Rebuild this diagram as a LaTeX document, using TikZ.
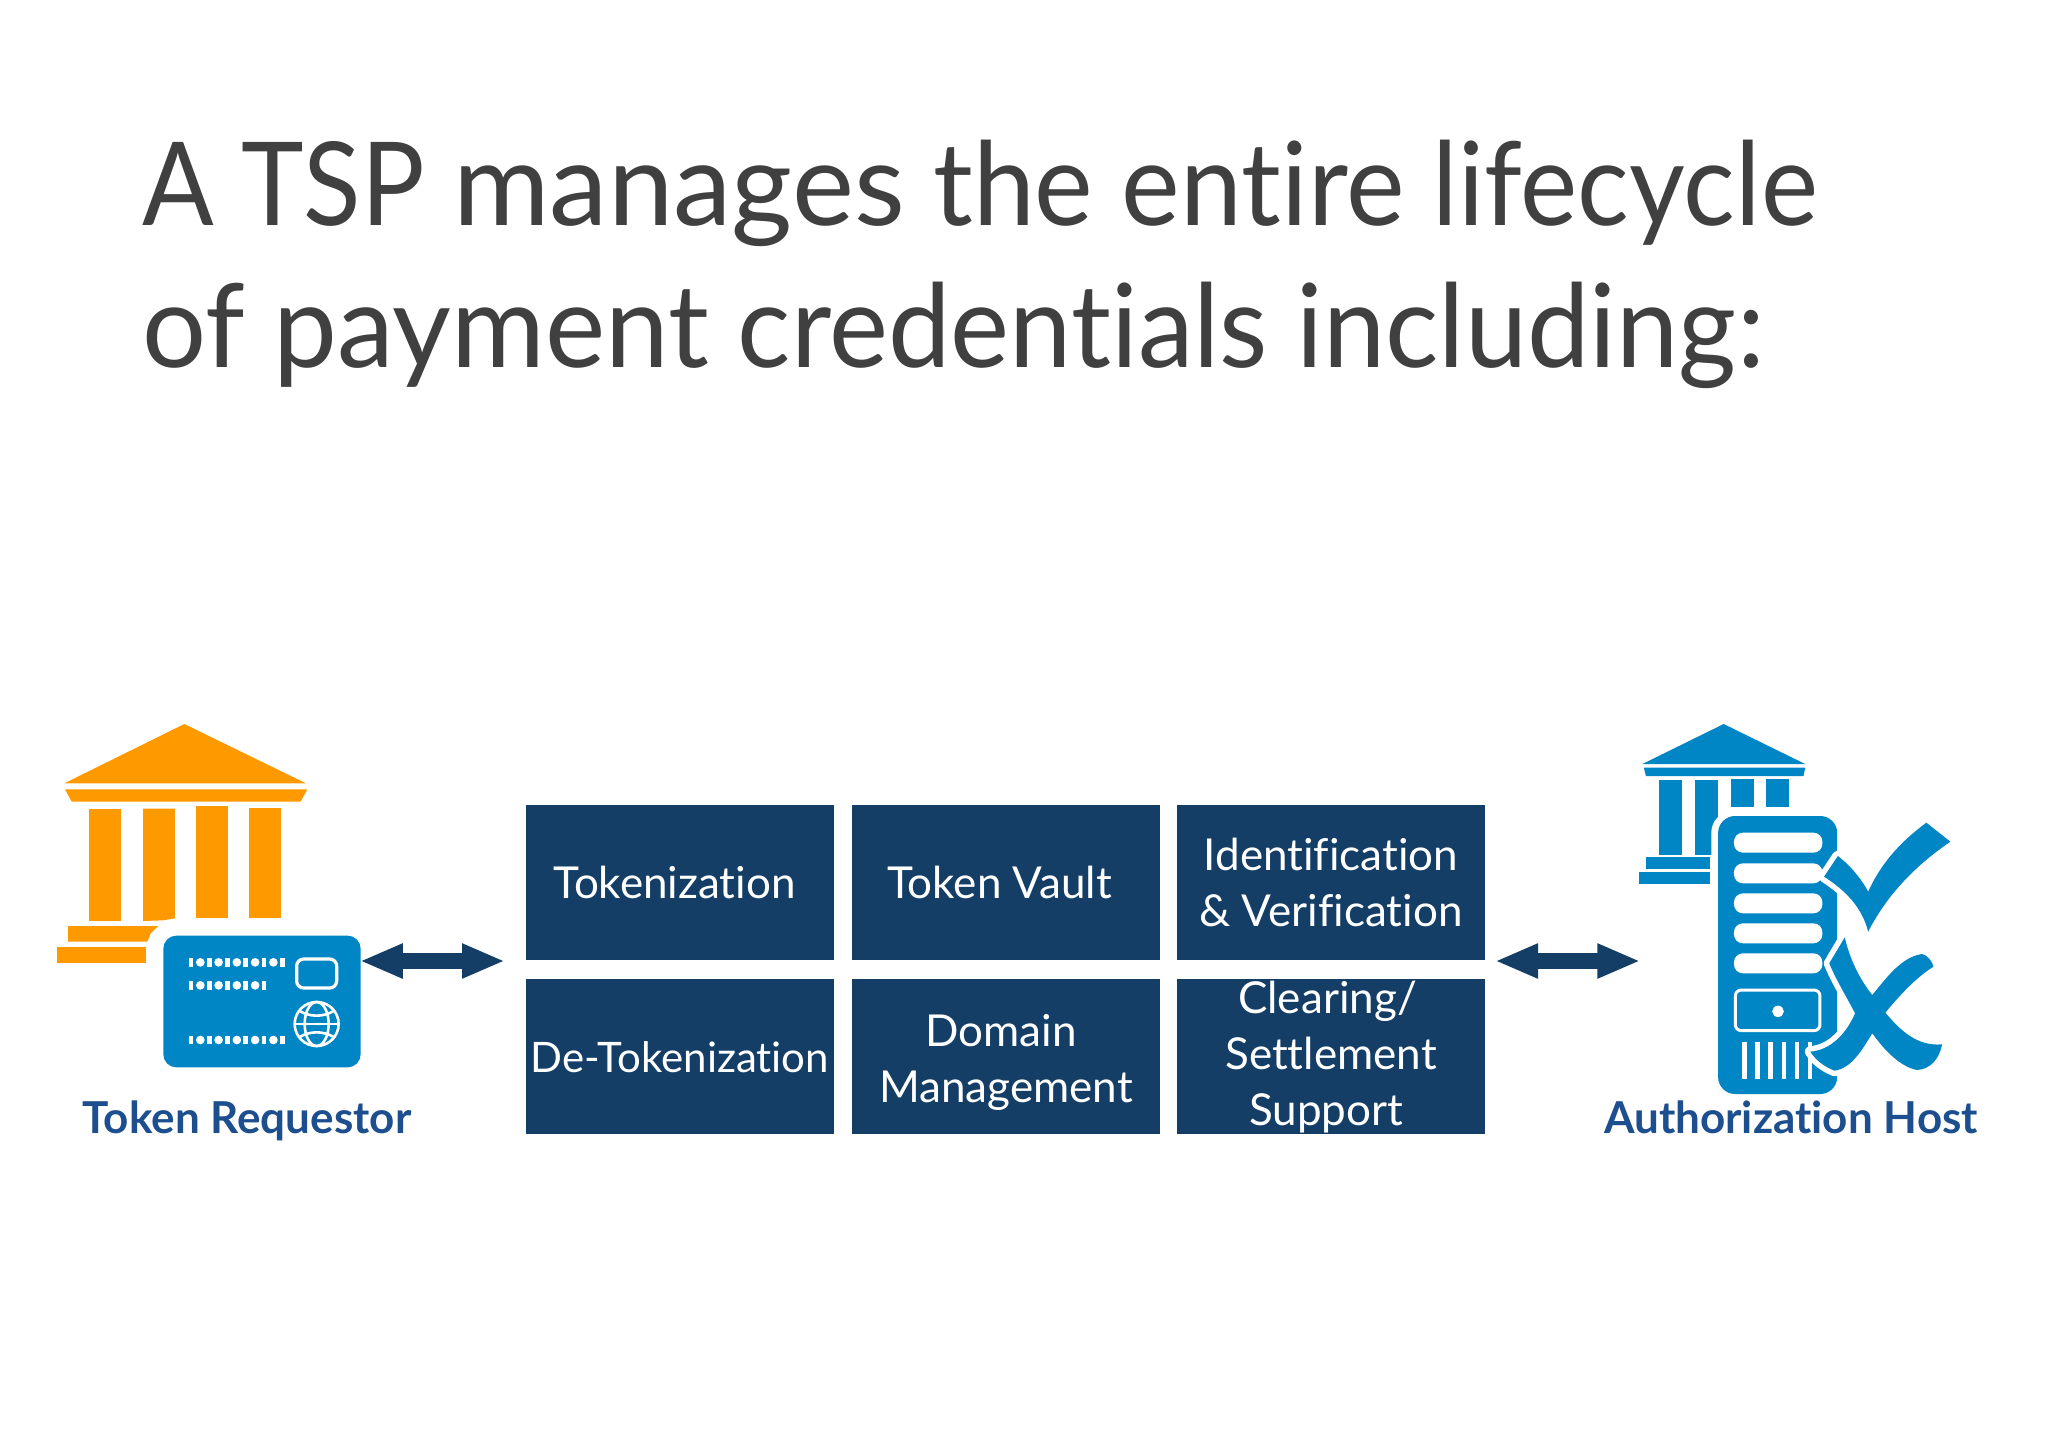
\documentclass[tikz,border=0pt]{standalone}
\usepackage{fontspec}
\usetikzlibrary{arrows.meta}
\setmainfont[Ligatures=NoCommon]{Lato}
\newfontfamily\titlefont[FakeStretch=0.956,Ligatures=NoCommon]{Lato}
\newcommand{\tw}[2]{{\addfontfeature{FakeStretch=#1}#2}}
\definecolor{navy}{HTML}{143E66}
\definecolor{orangeb}{HTML}{FF9900}
\definecolor{blueb}{HTML}{0085C5}
\definecolor{labelb}{HTML}{1D4F8E}
\definecolor{titleg}{HTML}{404040}
\tikzset{
  tspbox/.style={fill=navy,draw=none,minimum width=308pt,minimum height=155pt,inner sep=0pt,
    text=white,align=center,font=\fontsize{44}{56}\selectfont},
  actorlabel/.style={text=labelb,font=\fontsize{44}{50}\selectfont\bfseries,inner sep=0pt,anchor=base},
  biarrow/.style={draw=navy,line width=15.3pt,{Triangle[length=43pt,width=32pt]}-{Triangle[length=43pt,width=32pt]}},
}
\begin{document}
\begin{tikzpicture}[x=1pt,y=-1pt]
\useasboundingbox[fill=white] (0,0) rectangle (2048,1448);
\node[anchor=north west,inner sep=0pt,text=titleg,align=left,font=\titlefont\fontsize{116}{141.5}\selectfont] (title) at (142.5,140)
 {\tw{0.913}{A TSP} \tw{1.012}{manages} the entire \tw{0.933}{lifecycle}\\\tw{0.975}{of} \tw{0.983}{payment} \tw{0.962}{credentials} \tw{0.962}{including:}};
% boxes
\node[tspbox] (b1) at (680,882.8) {Tokenization\kern 11pt};
\node[tspbox] (b2) at (1006,882.8) {Token Vault\kern 13pt};
\node[tspbox] (b3) at (1331,882.8) {Identification\\\& Verification};
\node[tspbox,font=\fontsize{42}{56}\selectfont] (b4) at (680,1056.8) {De-Tokenization};
\node[tspbox] (b5) at (1006,1056.8) {\rule{0pt}{44pt}Domain\kern 10pt\\Management};
\node[tspbox] (b6) at (1331,1056.8) {Clearing/\kern 7pt\\Settlement\\Support\kern 10pt};
% left icon
\begin{scope}[x=0.33333pt,y=-0.33333pt,shift={(30pt,-700pt)}]
\fill[orangeb] (463,72) -- (828,250) -- (103,250) -- cycle;
\fill[orangeb] (105,268) -- (832,268) -- (812,305) -- (125,305) -- cycle;
\fill[orangeb] (177,326) rectangle (273,663);
\fill[orangeb] (339,326) -- (435,326) -- (435,655) -- (400,661) -- (339,663) -- cycle;
\fill[orangeb] (498,319) rectangle (594,653);
\fill[orangeb] (658,325) rectangle (754,653);
\fill[orangeb] (114,678) -- (385,678) -- (362,700) -- (352,725) -- (114,725) -- cycle;
\fill[orangeb] (80,742) -- (348,742) -- (348,790) -- (80,790) -- cycle;
\node[fill=blueb,draw=none,rounded corners=13pt,minimum width=197.3pt,minimum height=131.7pt,inner sep=0pt] (card) at (696,904.5) {};
\foreach \yy/\nn in {787/5,856/4,1020/5}{
  \foreach \i in {0,...,\nn}{
    \fill[white] ({483+\i*54.8-7},{\yy-13}) rectangle ({483+\i*54.8+7},{\yy+13});
  }
  \pgfmathtruncatemacro{\mm}{\nn-1}
  \foreach \i in {0,...,\mm}{
    \fill[white] ({511+\i*54.8},\yy) circle[radius=13];
  }
}
\draw[white,line width=3.2pt,rounded corners=7pt] (800,777) rectangle (920,864);
\begin{scope}[white,line width=2.6pt]
\draw (860,972) circle[radius=66];
\draw (860,972) ellipse[x radius=36,y radius=66];
\draw (794,972) -- (926,972);
\draw (807,932) .. controls (840,952) and (880,952) .. (913,932);
\draw (807,1012) .. controls (840,992) and (880,992) .. (913,1012);
\end{scope}
\end{scope}
% token requestor label
\node[actorlabel] (tr) at (247,1133.5) {Token Requestor};
% right icon
\begin{scope}[x=0.3441pt,y=-0.33333pt,shift={(1480pt,-700pt)}]
\fill[blueb] (708,72) -- (945,192) -- (472,192) -- cycle;
\fill[blueb] (476,203) -- (945,203) -- (940,228) -- (482,228) -- cycle;
\fill[blueb] (521,240) rectangle (588,466);
\fill[blueb] (625,240) rectangle (691,466);
\fill[blueb] (728,237) rectangle (795,322);
\fill[blueb] (831,237) rectangle (897,322);
\fill[blueb] (481,472) rectangle (668,508);
\fill[blueb] (463,515) rectangle (668,552);
\fill[white] (672,400) .. controls (672,360) and (700,332) .. (745,332) -- (900,332) -- (900,560) -- (672,560) -- cycle;
\node[fill=blueb,draw=none,rounded corners=17pt,minimum width=119.1pt,minimum height=278pt,inner sep=0pt] (server) at (865,765) {};
\foreach \yy in {398,490,580,670,760}{
  \fill[white,rounded corners=9pt] (738,\yy) rectangle (995,{\yy+60});
}
\draw[white,line width=3pt,rounded corners=6pt] (742,870) rectangle (988,992);
\fill[white] (866,934) circle[radius=17];
\foreach \xx in {762,800,838,877,915,953}{
  \fill[white] (\xx,1025) rectangle ({\xx+13},1138);
}
\def\checkmark{(1000,530) -- (1040,468) .. controls (1080,500) and (1110,540) .. (1128,575)
  .. controls (1170,480) and (1230,420) .. (1297,368) -- (1367,425)
  .. controls (1260,500) and (1180,590) .. (1128,695)
  .. controls (1110,620) and (1060,570) .. (1000,530) -- cycle}
\filldraw[white,line width=11pt,line join=round] \checkmark;
\fill[blueb] \checkmark;
\def\xmark{(1015,790) -- (1060,712) .. controls (1075,780) and (1105,840) .. (1140,885)
  .. controls (1180,835) and (1225,770) .. (1285,762) .. controls (1300,765) and (1315,785) .. (1318,800)
  .. controls (1270,830) and (1220,885) .. (1178,938)
  .. controls (1220,990) and (1270,1040) .. (1343,1033)
  .. controls (1335,1075) and (1310,1108) .. (1270,1110)
  .. controls (1220,1100) and (1175,1050) .. (1140,1000)
  .. controls (1110,1050) and (1080,1105) .. (1030,1112)
  .. controls (1000,1100) and (975,1080) .. (960,1055)
  .. controls (1020,1050) and (1065,1000) .. (1090,940)
  .. controls (1065,890) and (1035,840) .. (1015,790) -- cycle}
\filldraw[white,line width=11pt,line join=round] \xmark;
\fill[blueb] \xmark;
\end{scope}
\node[actorlabel] (ah) at (1791,1133.5) {Authorization Host};
% connectors
\coordinate (la) at (359.8,961);
\coordinate (lb) at (505,961);
\coordinate (ra) at (1495,961);
\coordinate (rb) at (1640.4,961);
\draw[biarrow] (la) -- (lb);
\draw[biarrow] (ra) -- (rb);
\end{tikzpicture}
\end{document}
